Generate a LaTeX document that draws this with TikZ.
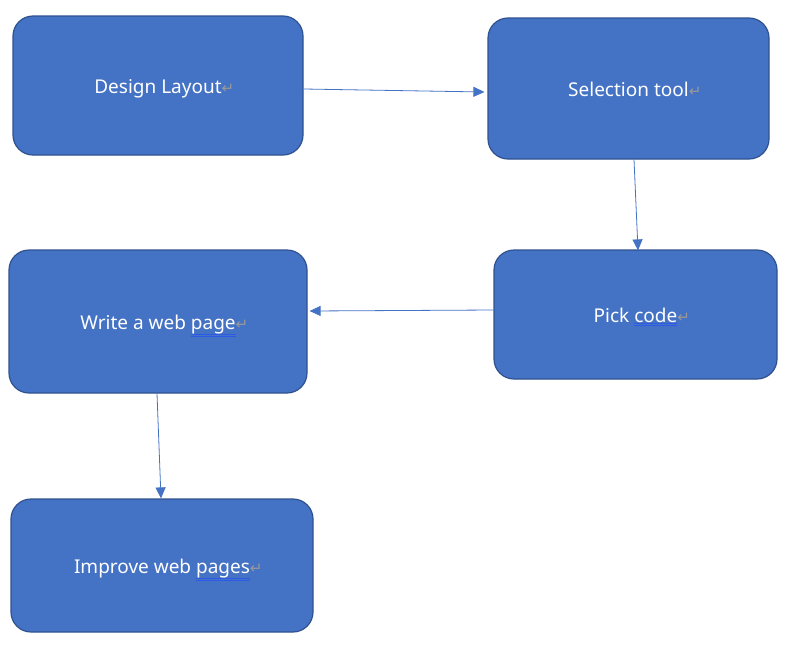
\documentclass[tikz,border=0pt]{standalone}
\usepackage{fontspec}
\setmainfont{Noto Sans}
\newfontfamily\markfont{DejaVu Sans}
\usetikzlibrary{arrows.meta}

\definecolor{boxblue}{HTML}{4472C4}
\definecolor{boxedge}{HTML}{2F528F}
\definecolor{spellblue}{HTML}{2E5BE6}
\newcommand\parmark{\rlap{\color{gray!80}\markfont\fontsize{15}{18}\selectfont ↵}}
\newcommand\spellword[1]{\leavevmode\smash{\vtop{\hbox{#1}\kern0.8pt{\color{spellblue}\hrule height0.6pt\kern1pt\hrule height0.6pt}}}}

\begin{document}
\begin{tikzpicture}[x=1pt,y=-1pt,
	stepbox/.style={draw=boxedge,line width=1.2pt,fill=boxblue,rounded corners=20pt,
		text=white,font=\fontsize{19}{22}\selectfont,inner sep=0pt,text height=17pt,text depth=2pt},
	flow/.style={boxblue,line width=0.8pt,-{Triangle[length=11pt,width=10pt]}}]
	\useasboundingbox (0,0) rectangle (799,645);
	
	%Kaesten
	\node[stepbox,minimum width=290pt,minimum height=139pt] (design) at (158,85.5) {Design Layout\parmark};
	\node[stepbox,minimum width=281pt,minimum height=141pt] (select) at (628.5,88.5) {Selection tool\parmark};
	\node[stepbox,minimum width=283pt,minimum height=129pt] (pick) at (635.5,314.5) {Pick \spellword{code}\parmark};
	\node[stepbox,minimum width=298pt,minimum height=143pt] (write) at (158,321.5) {Write a web \spellword{page}\parmark};
	\node[stepbox,minimum width=302pt,minimum height=133pt] (improve) at (162,565.5) {Improve web \spellword{pages}\parmark};
	
	%Pfeile
	\draw[flow] ([yshift=-3.5pt]design.east) -- ([xshift=-3pt,yshift=-3.5pt]select.west);
	\draw[flow] ([xshift=5.5pt]select.south) -- ([xshift=2.5pt,yshift=-1pt]pick.north);
	\draw[flow] ([yshift=4.5pt]pick.west) -- ([xshift=2pt,yshift=10.5pt]write.east);
	\draw[flow] ([xshift=-1pt]write.south) -- ([xshift=-1pt]improve.north);
	
\end{tikzpicture}
\end{document}
